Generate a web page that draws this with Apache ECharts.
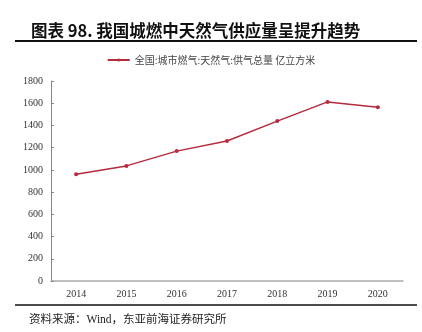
<!DOCTYPE html>
<html>
<head>
<meta charset="utf-8">
<script src="https://cdn.jsdelivr.net/npm/echarts@6/dist/echarts.min.js"></script>
<style>
  html, body { margin: 0; padding: 0; background: #fff; }
  #chart { width: 422px; height: 332px; }
</style>
</head>
<body>
<div id="chart"></div>
<script>
// Urban gas: natural gas supply volume, 100 million m³
const years = ['2014', '2015', '2016', '2017', '2018', '2019', '2020'];
const supply = [960, 1036, 1169, 1260, 1439, 1612, 1564];
const seriesName = '全国:城市燃气:天然气:供气总量 亿立方米';
const titleText = '图表 98. 我国城燃中天然气供应量呈提升趋势';
const sourceText = '资料来源：Wind，东亚前海证券研究所';

const chart = echarts.init(document.getElementById('chart'), null, { renderer: 'canvas' });
const serif = '"Liberation Serif", "Noto Sans CJK SC", serif';
const cjk = '"Noto Sans CJK SC", sans-serif';

chart.setOption({
  animation: false,
  backgroundColor: '#fff',
  title: [{
    text: titleText,
    left: 26,
    top: 15,
    textStyle: { fontFamily: cjk, fontSize: 16.5, fontWeight: 'bold', color: '#111', lineHeight: 22 }
  }, {
    text: sourceText,
    left: 24,
    top: 309,
    textStyle: { fontFamily: serif, fontSize: 11.5, fontWeight: 'normal', color: '#222' }
  }],
  graphic: [
    { type: 'line', shape: { x1: 15, y1: 41, x2: 417, y2: 41 }, style: { stroke: '#111', lineWidth: 2 } },
    { type: 'line', shape: { x1: 15, y1: 305, x2: 417, y2: 305 }, style: { stroke: '#111', lineWidth: 1.5 } }
  ],
  legend: {
    top: 50,
    left: 'center',
    itemWidth: 22,
    itemHeight: 4,
    itemGap: 6,
    textStyle: { fontFamily: cjk, fontSize: 10, color: '#444' },
    data: [seriesName]
  },
  grid: { left: 51, right: 19, top: 81, bottom: 51, containLabel: false },
  xAxis: {
    type: 'category',
    data: years,
    boundaryGap: true,
    axisLine: { lineStyle: { color: '#aaa', width: 1.5 } },
    axisTick: { show: false },
    axisLabel: { fontFamily: serif, fontSize: 10, color: '#333', margin: 8 }
  },
  yAxis: {
    type: 'value',
    min: 0,
    max: 1800,
    interval: 200,
    axisLine: { show: true, lineStyle: { color: '#888' } },
    axisTick: { show: true, inside: true, length: 3, lineStyle: { color: '#888' } },
    splitLine: { show: false },
    axisLabel: { fontFamily: serif, fontSize: 10, color: '#333', margin: 8, formatter: v => String(v) }
  },
  series: [{
    name: seriesName,
    type: 'line',
    data: supply,
    symbol: 'circle',
    symbolSize: 4,
    itemStyle: { color: '#B52A3C' },
    lineStyle: { color: '#B52A3C', width: 1.5 }
  }]
});
</script>
</body>
</html>
